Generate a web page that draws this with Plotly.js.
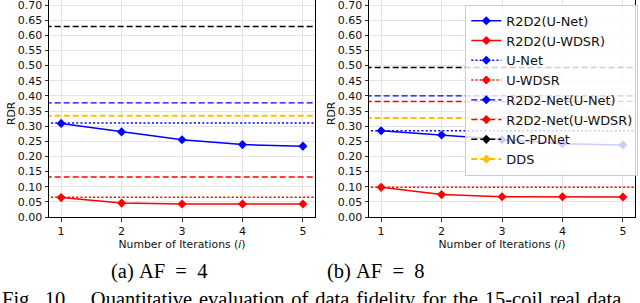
<!DOCTYPE html>
<html>
<head>
<meta charset="utf-8">
<script src="https://cdn.plot.ly/plotly-3.0.1.min.js"></script>
<style>
html,body{margin:0;padding:0;background:#fff;}
#chart{width:640px;height:303px;}
</style>
</head>
<body>
<div id="chart"></div>
<script>
// ---- data ----
const iterations = [1, 2, 3, 4, 5];
const xTicks = [1, 2, 3, 4, 5];
const seriesNames = ["R2D2(U-Net)", "R2D2(U-WDSR)", "U-Net", "U-WDSR",
  "R2D2-Net(U-Net)", "R2D2-Net(U-WDSR)", "NC-PDNet", "DDS"];

// AF = 4
const af4_r2d2_unet  = [0.309, 0.281, 0.255, 0.239, 0.234];
const af4_r2d2_uwdsr = [0.064, 0.046, 0.043, 0.043, 0.043];
const af4_unet = 0.310;
const af4_uwdsr = 0.065;
const af4_r2d2net_unet = 0.377;
const af4_r2d2net_uwdsr = 0.132;
const af4_ncpdnet = 0.629;
const af4_dds = 0.334;

// AF = 8
const af8_r2d2_unet  = [0.285, 0.271, 0.255, 0.242, 0.238];
const af8_r2d2_uwdsr = [0.098, 0.074, 0.067, 0.067, 0.066];
const af8_unet = 0.285;
const af8_uwdsr = 0.098;
const af8_r2d2net_unet = 0.400;
const af8_r2d2net_uwdsr = 0.381;
const af8_ncpdnet = 0.494;
const af8_dds = 0.327;

const NB = "\u00A0", HAIR = "\u200A";
const captions = ["(a)" + NB + "AF" + NB + NB + "=" + NB + NB + "4",
                  "(b)" + NB + "AF" + NB + NB + "=" + NB + NB + "8"];
const figWords = ["Fig.", "10.", "Quantitative", "evaluation", "of", "data", "fidelity",
  "for", "the", "15-coil", "real", "data"];
const xTitle = "Number of Iterations (<i>i</i>)";
const yTitle = "RDR";

// ---- styles ----
const BLUE = "#0000ff", RED = "#ff0000", BLACK = "#000000", GOLD = "#ffc000";
const DOT = "2px,2.2px", DASH = "6px,3px";
const spanX = [0, 6]; // horizontal reference lines span beyond the visible range

function solid(name, y, color, xa, ya, show) {
  return {x: iterations, y: y, name: name, type: "scatter", mode: "lines+markers",
    xaxis: xa, yaxis: ya, showlegend: show, legendgroup: name,
    line: {color: color, width: 1.5},
    marker: {symbol: "diamond", size: 7, color: color}};
}
function hline(name, v, color, dash, width, xa, ya, show) {
  return {x: spanX, y: [v, v], name: name, type: "scatter", mode: "lines+markers",
    xaxis: xa, yaxis: ya, showlegend: show, legendgroup: name,
    line: {color: color, width: width, dash: dash},
    marker: {symbol: "diamond", size: 7, color: color}};
}

function panel(xa, ya, d, show) {
  return [
    solid(seriesNames[0], d.r2d2_unet, BLUE, xa, ya, show),
    solid(seriesNames[1], d.r2d2_uwdsr, RED, xa, ya, show),
    hline(seriesNames[2], d.unet, BLUE, DOT, 1.5, xa, ya, show),
    hline(seriesNames[3], d.uwdsr, RED, DOT, 1.5, xa, ya, show),
    hline(seriesNames[4], d.r2d2net_unet, BLUE, DASH, 1.3, xa, ya, show),
    hline(seriesNames[5], d.r2d2net_uwdsr, RED, DASH, 1.5, xa, ya, show),
    hline(seriesNames[6], d.ncpdnet, BLACK, DASH, 1.5, xa, ya, show),
    hline(seriesNames[7], d.dds, GOLD, DASH, 2, xa, ya, show)
  ];
}

const traces = [].concat(
  panel("x", "y", {r2d2_unet: af4_r2d2_unet, r2d2_uwdsr: af4_r2d2_uwdsr, unet: af4_unet,
    uwdsr: af4_uwdsr, r2d2net_unet: af4_r2d2net_unet, r2d2net_uwdsr: af4_r2d2net_uwdsr,
    ncpdnet: af4_ncpdnet, dds: af4_dds}, false),
  panel("x2", "y2", {r2d2_unet: af8_r2d2_unet, r2d2_uwdsr: af8_r2d2_uwdsr, unet: af8_unet,
    uwdsr: af8_uwdsr, r2d2net_unet: af8_r2d2net_unet, r2d2net_uwdsr: af8_r2d2net_uwdsr,
    ncpdnet: af8_ncpdnet, dds: af8_dds}, true)
);

const FONT = "DejaVu Sans, sans-serif";
const SERIF = "Liberation Serif, Times New Roman, serif";
function xAxis(domain, anchor) {
  return {domain: domain, anchor: anchor, range: [0.8, 5.2], tickmode: "array", tickvals: xTicks,
    ticks: "outside", ticklen: 3.5, tickwidth: 0.8, tickcolor: "#000",
    showline: true, linecolor: "#000", linewidth: 1, mirror: false,
    showgrid: true, gridcolor: "#e3e3e3", gridwidth: 1, zeroline: false,
    tickfont: {family: FONT, size: 11, color: "#111"},
    title: {text: xTitle, font: {family: FONT, size: 10.8, color: "#111"}, standoff: 1},
    automargin: false, fixedrange: true};
}
function yAxis(anchor) {
  return {domain: [0.2838, 1], anchor: anchor, range: [0, 0.7165], dtick: 0.05, tick0: 0, tickformat: ".2f",
    ticks: "outside", ticklen: 3.5, tickwidth: 0.8, tickcolor: "#000",
    showline: true, linecolor: "#000", linewidth: 1, mirror: true,
    showgrid: true, gridcolor: "#e3e3e3", gridwidth: 1, zeroline: false,
    ticklabeloverflow: "allow",
    tickfont: {family: FONT, size: 11, color: "#111"},
    automargin: false, fixedrange: true};
}

const annotations = [
  {text: yTitle, xref: "paper", yref: "paper", x: 12 / 640, y: 1 - 113 / 303, textangle: -90,
    xanchor: "center", yanchor: "middle", showarrow: false,
    font: {family: FONT, size: 10.8, color: "#111"}},
  {text: yTitle, xref: "paper", yref: "paper", x: 332 / 640, y: 1 - 113 / 303, textangle: -90,
    xanchor: "center", yanchor: "middle", showarrow: false,
    font: {family: FONT, size: 10.8, color: "#111"}},
  {text: captions[0], xref: "paper", yref: "paper", x: 159 / 640, y: 1 - 271 / 303,
    xanchor: "center", yanchor: "middle", showarrow: false,
    font: {family: SERIF, size: 20.5, color: "#000"}},
  {text: captions[1], xref: "paper", yref: "paper", x: 376 / 640, y: 1 - 271 / 303,
    xanchor: "center", yanchor: "middle", showarrow: false,
    font: {family: SERIF, size: 20.5, color: "#000"}},
  {text: figWords.slice(0, 2).join(NB + NB) + NB + NB + NB + NB + figWords.slice(2).join(NB + HAIR),
    xref: "paper", yref: "paper", x: 0, y: 1 - 286 / 303,
    xanchor: "left", yanchor: "top", showarrow: false,
    font: {family: SERIF, size: 20.5, color: "#000"}}
];

const layout = {
  width: 640, height: 303,
  margin: {l: 0, r: 0, t: 0, b: 0},
  paper_bgcolor: "#fff", plot_bgcolor: "#fff",
  showlegend: true,
  hovermode: false,
  xaxis: xAxis([0.0766, 0.4922], "y"),
  yaxis: yAxis("x"),
  xaxis2: xAxis([0.5766, 0.9922], "y2"),
  yaxis2: yAxis("x2"),
  legend: {x: 0.727, y: 0.984, xanchor: "left", yanchor: "top",
    bgcolor: "rgba(255,255,255,0.8)", bordercolor: "#cccccc", borderwidth: 1,
    font: {family: FONT, size: 12.9, color: "#111"}, itemwidth: 30, tracegroupgap: 0},
  annotations: annotations
};

Plotly.newPlot("chart", traces, layout, {displayModeBar: false, staticPlot: true});
</script>
</body>
</html>
